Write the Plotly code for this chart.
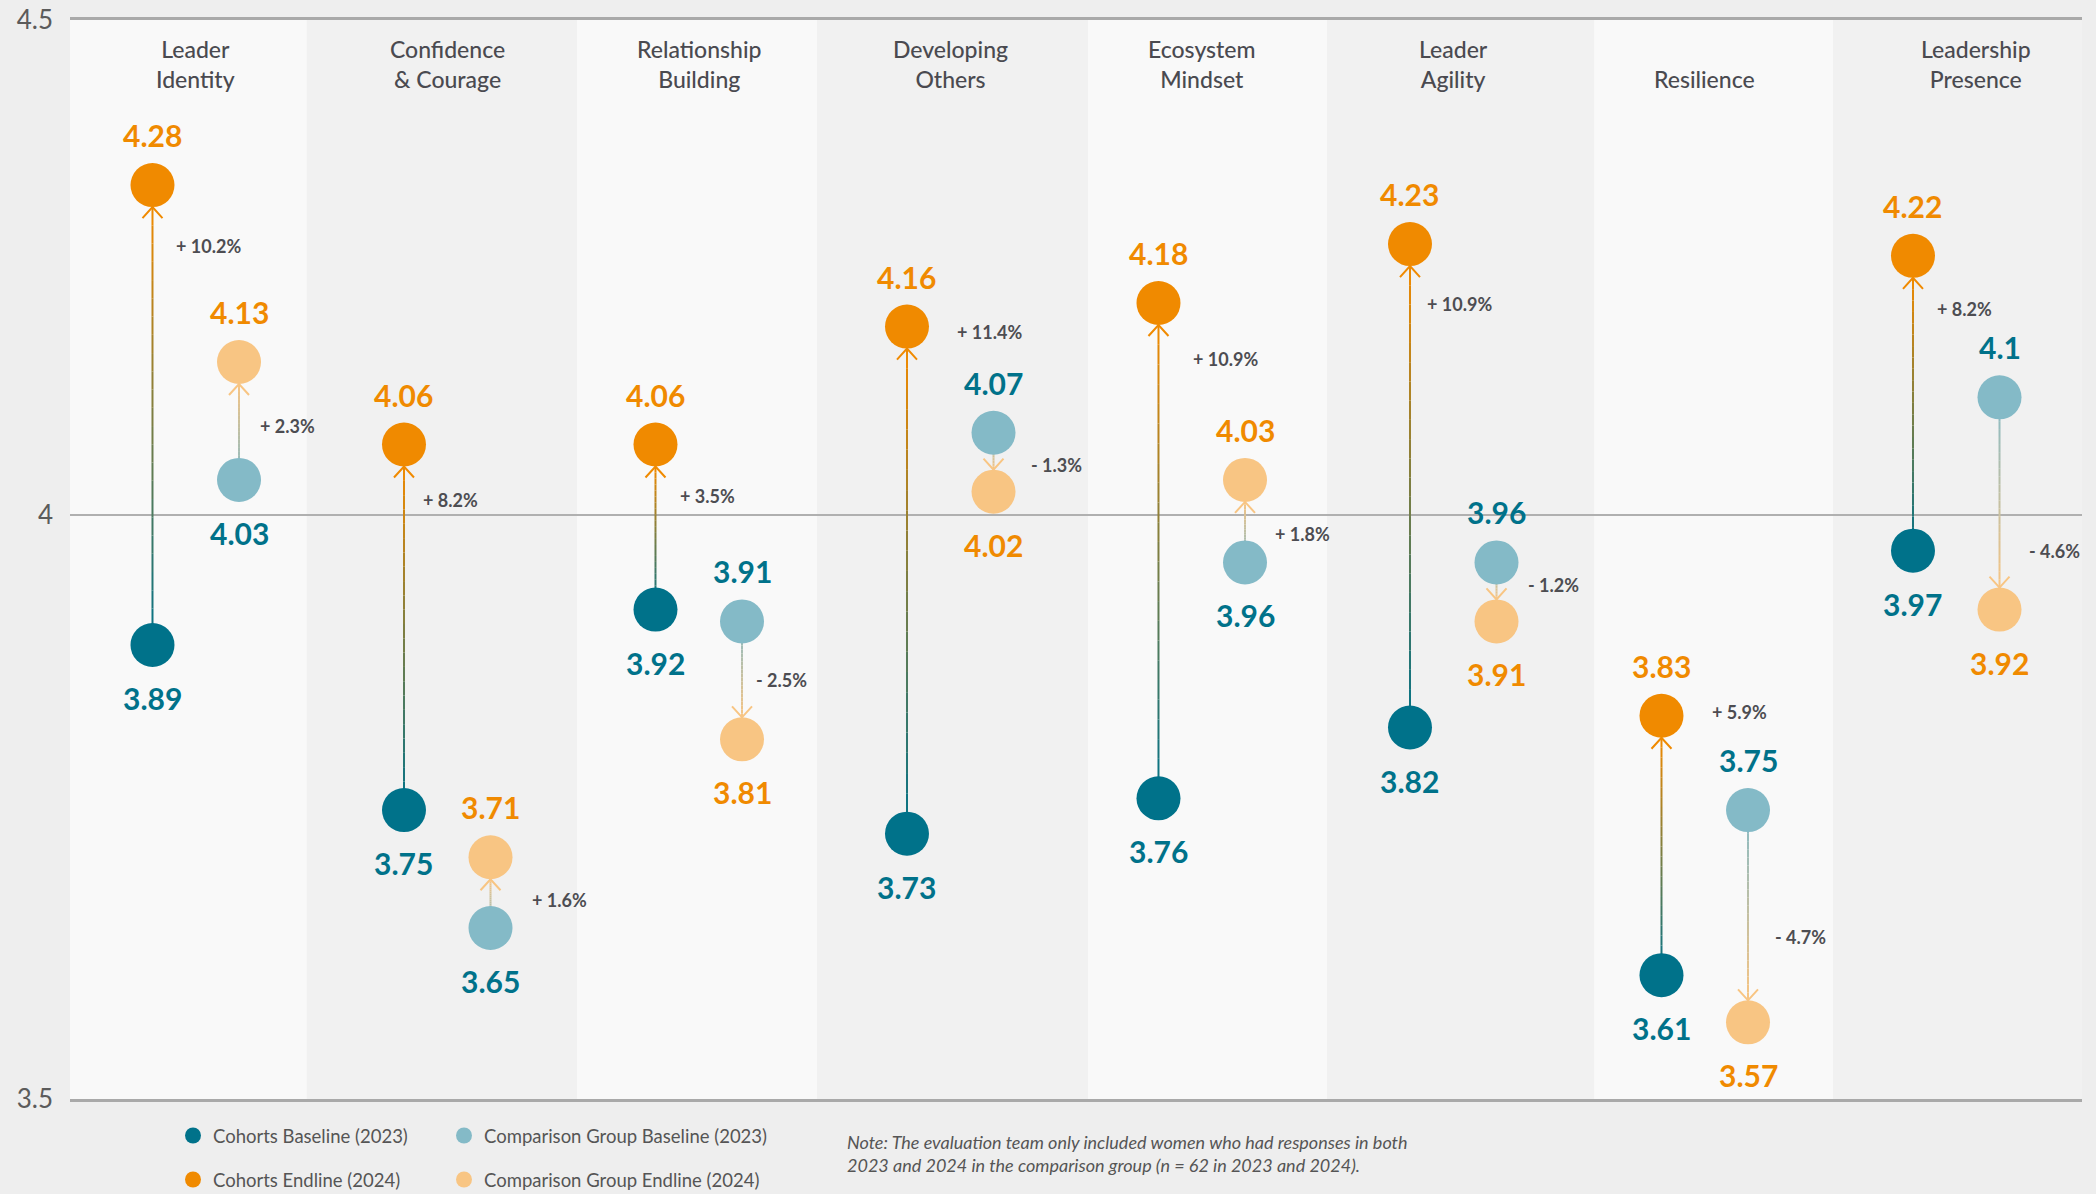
import plotly.graph_objects as go

# ---------------- data ----------------
categories = ["Leader<br>Identity", "Confidence<br>& Courage", "Relationship<br>Building",
              "Developing<br>Others", "Ecosystem<br>Mindset", "Leader<br>Agility",
              "Resilience", "Leadership<br>Presence"]
cohort_baseline = [3.89, 3.75, 3.92, 3.73, 3.76, 3.82, 3.61, 3.97]
cohort_endline = [4.28, 4.06, 4.06, 4.16, 4.18, 4.23, 3.83, 4.22]
comp_baseline = [4.03, 3.65, 3.91, 4.07, 3.96, 3.96, 3.75, 4.10]
comp_endline = [4.13, 3.71, 3.81, 4.02, 4.03, 3.91, 3.57, 3.92]
cohort_change = ["+ 10.2%", "+ 8.2%", "+ 3.5%", "+ 11.4%", "+ 10.9%", "+ 10.9%", "+ 5.9%", "+ 8.2%"]
comp_change = ["+ 2.3%", "+ 1.6%", "- 2.5%", "- 1.3%", "+ 1.8%", "- 1.2%", "- 4.7%", "- 4.6%"]
ytick_text = ["3.5", "4", "4.5"]
series_names = ["Cohorts Baseline (2023)", "Cohorts Endline (2024)",
                "Comparison Group Baseline (2023)", "Comparison Group Endline (2024)"]

# ---------------- layout helpers (positions / styles) ----------------
band_edges = [-0.5, 0.442, 1.516, 2.470, 3.548, 4.498, 5.560, 6.510, 7.5]
cohort_pct_y = [4.2285, 4.013, 4.0165, 4.1555, 4.1327, 4.1795, 3.833, 4.175]
comp_pct_y = [4.0758, 3.6734, 3.8603, 4.0427, 3.9845, 3.9412, 3.6426, 3.9698]
cohort_pct_xshift = [22, 17, 23, 48, 33, 15, 49, 22]
comp_pct_xshift = [19, 39, 12, 35, 28, 29, 25, 27]
title_xshift = [0, 0, 0, 0, 0, 0, 0, 20]

W, H = 2096, 1194
M_L, M_R, M_T, M_B = 70, 14, 20, 95
Y0, Y1 = 3.505, 4.42
X0, X1 = -0.5, 7.5
OFF = 0.172
plot_w = W - M_L - M_R
plot_h = H - M_T - M_B
px_x = plot_w / (X1 - X0)
px_y = plot_h / (Y1 - Y0)

TEAL = "#00728a"
LTEAL = "#84bac7"
ORANGE = "#f08a00"
LORANGE = "#f8c583"
GRAY_TXT = "#4d4d52"
FONT = "Lato, 'Open Sans', sans-serif"
MARKER = 44


def hex_rgb(h):
    h = h.lstrip("#")
    return tuple(int(h[i:i + 2], 16) for i in (0, 2, 4))


def mix(c0, c1, t):
    a, b = hex_rgb(c0), hex_rgb(c1)
    return "rgb(%d,%d,%d)" % tuple(round(a[i] + (b[i] - a[i]) * t) for i in range(3))


n = len(categories)
idx = list(range(n))
x_cohort = [i - OFF for i in idx]
x_comp = [i + OFF for i in idx]

fig = go.Figure()

shapes = []
# alternating background bands
for i in idx:
    shapes.append(dict(type="rect", xref="x", yref="paper", x0=band_edges[i], x1=band_edges[i + 1], y0=0, y1=1,
                       fillcolor="#f9f9f9" if i % 2 == 0 else "#f1f1f1", line=dict(width=0), layer="below"))

# gradient connectors with chevron arrowheads
N = 24
r_data = (MARKER / 2) / px_y
dx = 10 / px_x
dy = 11 / px_y
for xs, bs, es, c0, c1 in [(x_cohort, cohort_baseline, cohort_endline, TEAL, ORANGE),
                           (x_comp, comp_baseline, comp_endline, LTEAL, LORANGE)]:
    for xc, b, e in zip(xs, bs, es):
        s = 1 if e > b else -1
        tip = e - s * r_data
        for k in range(N):
            ya = b + (tip - b) * k / N
            yb = b + (tip - b) * (k + 1) / N
            shapes.append(dict(type="line", xref="x", yref="y", x0=xc, x1=xc, y0=ya, y1=yb,
                               line=dict(color=mix(c0, c1, (k + 0.5) / N), width=2), layer="between"))
        shapes.append(dict(type="path", xref="x", yref="y",
                           path=f"M {xc - dx},{tip - s * dy} L {xc},{tip} L {xc + dx},{tip - s * dy}",
                           line=dict(color=c1, width=2), layer="between"))

# markers (each series gets its own one-item legend so the 2x2 legend grid can be placed exactly)
fig.add_trace(go.Scatter(x=x_cohort, y=cohort_baseline, mode="markers", name=series_names[0],
                         marker=dict(size=MARKER, color=TEAL), legend="legend", hoverinfo="skip"))
fig.add_trace(go.Scatter(x=x_cohort, y=cohort_endline, mode="markers", name=series_names[1],
                         marker=dict(size=MARKER, color=ORANGE), legend="legend2", hoverinfo="skip"))
fig.add_trace(go.Scatter(x=x_comp, y=comp_baseline, mode="markers", name=series_names[2],
                         marker=dict(size=MARKER, color=LTEAL), legend="legend3", hoverinfo="skip"))
fig.add_trace(go.Scatter(x=x_comp, y=comp_endline, mode="markers", name=series_names[3],
                         marker=dict(size=MARKER, color=LORANGE), legend="legend4", hoverinfo="skip"))

annotations = []
# category titles
for i, cat in enumerate(categories):
    annotations.append(dict(x=i, y=1 - (95 - M_T) / plot_h, xref="x", yref="paper", text=cat,
                            showarrow=False, xanchor="center", yanchor="bottom", xshift=title_xshift[i],
                            font=dict(family=FONT, size=23, color="#4a4a50", weight=500)))


def fmt(v):
    return f"{v:g}"


# value labels
for xs, bs, es in [(x_cohort, cohort_baseline, cohort_endline), (x_comp, comp_baseline, comp_endline)]:
    for xc, b, e in zip(xs, bs, es):
        up = e > b
        annotations.append(dict(x=xc, y=e, xref="x", yref="y", text=fmt(e), showarrow=False,
                                yshift=50 if up else -53, yanchor="middle",
                                font=dict(family=FONT, size=30, color=ORANGE, weight="bold")))
        annotations.append(dict(x=xc, y=b, xref="x", yref="y", text=fmt(b), showarrow=False,
                                yshift=-53 if up else 50, yanchor="middle",
                                font=dict(family=FONT, size=30, color=TEAL, weight="bold")))

# percent change labels
for xs, txts, ys, shifts in [(x_cohort, cohort_change, cohort_pct_y, cohort_pct_xshift),
                             (x_comp, comp_change, comp_pct_y, comp_pct_xshift)]:
    for xc, t, yv, sh in zip(xs, txts, ys, shifts):
        annotations.append(dict(x=xc, y=yv, xref="x", yref="y", text=t, showarrow=False,
                                xanchor="left", yanchor="middle", xshift=sh,
                                font=dict(family=FONT, size=18, color=GRAY_TXT, weight="bold")))

# note
annotations.append(dict(x=(845 - M_L) / plot_w, y=-(1153.5 - (H - M_B)) / plot_h, xref="paper", yref="paper",
                        text="<i>Note: The evaluation team only included women who had responses in both<br>"
                             "2023 and 2024 in the comparison group (n = 62 in 2023 and 2024).</i>",
                        showarrow=False, xanchor="left", yanchor="middle", align="left",
                        font=dict(family=FONT, size=18, color="#555555")))


def legend_at(cx, cy):
    return dict(orientation="h", xanchor="left", yanchor="middle",
                x=(cx - 20 - M_L) / plot_w, y=-(cy - (H - M_B)) / plot_h,
                bgcolor="rgba(0,0,0,0)", font=dict(family=FONT, size=18.5, color="#555555"),
                itemsizing="trace")


fig.update_layout(
    width=W, height=H,
    margin=dict(l=M_L, r=M_R, t=M_T, b=M_B, autoexpand=False),
    paper_bgcolor="#eeeeee", plot_bgcolor="#f5f5f5",
    shapes=shapes, annotations=annotations,
    showlegend=True,
    legend=legend_at(193, 1136),
    legend2=legend_at(193, 1180),
    legend3=legend_at(464, 1136),
    legend4=legend_at(464, 1180),
    xaxis=dict(range=[X0, X1], showgrid=False, zeroline=False, showticklabels=False, ticks="",
               showline=True, mirror=True, linecolor="#a9a9a9", linewidth=2.5, fixedrange=True),
    yaxis=dict(range=[Y0, Y1], tickvals=[Y0, 4.0, Y1], ticktext=ytick_text, showgrid=True,
               gridcolor="#b0b0b0", gridwidth=1.5, zeroline=False, showline=False, ticks="",
               ticklabelstandoff=16, automargin=False,
               tickfont=dict(family=FONT, size=26, color="#5b5b5b"), fixedrange=True),
    hovermode=False,
)

fig.write_html("out.html", config={"displayModeBar": False},
               post_script="document.body.style.margin='0px';")
